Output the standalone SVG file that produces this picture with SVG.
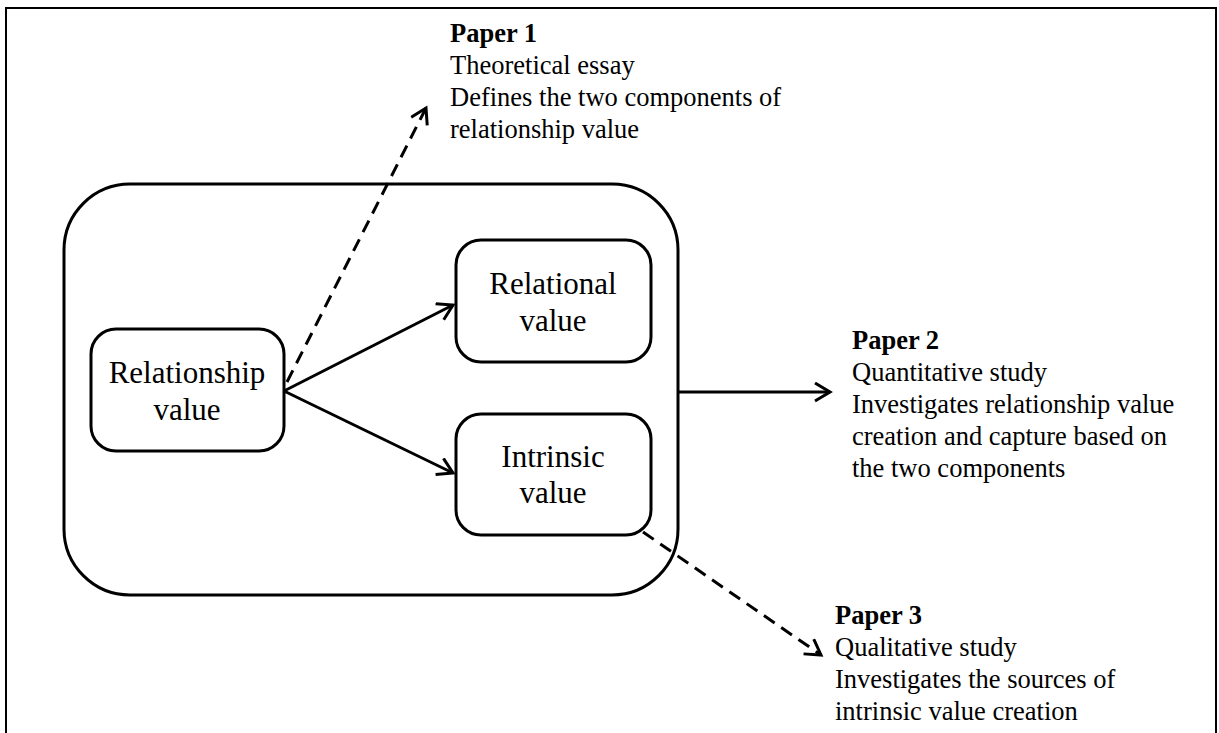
<svg xmlns="http://www.w3.org/2000/svg" width="1219" height="733" viewBox="0 0 1219 733">
<style>
.box{fill:#fff;stroke:#000;stroke-width:3}
.t{font-family:"Liberation Serif","Times New Roman",serif;font-size:26.5px;fill:#000}
.n{font-family:"Liberation Serif","Times New Roman",serif;font-size:31px;fill:#000;text-anchor:middle}
.b{font-weight:bold}
.c{fill:none;stroke:#000;stroke-width:3}
.d{stroke-dasharray:13 8}
</style>
<defs>
<marker id="ah" markerUnits="userSpaceOnUse" markerWidth="20" markerHeight="22" refX="16" refY="10" orient="auto">
<path d="M1,1 L16,10 L1,19" fill="none" stroke="#000" stroke-width="3"/>
</marker>
</defs>
<rect width="1219" height="733" fill="#fff"/>
<path d="M6,740 V8 H1216 V740" fill="none" stroke="#000" stroke-width="2"/>
<g id="container"><rect class="box" x="64" y="184" width="614" height="411" rx="66" ry="66"/></g>
<g id="relationship-value"><rect class="box" x="91" y="329" width="193" height="122" rx="25" ry="25"/>
<text class="n" x="187" y="383">Relationship</text><text class="n" x="187" y="420">value</text></g>
<g id="relational-value"><rect class="box" x="456" y="240" width="195" height="122" rx="25" ry="25"/>
<text class="n" x="553" y="294">Relational</text><text class="n" x="553" y="331">value</text></g>
<g id="intrinsic-value"><rect class="box" x="456" y="414" width="195" height="121" rx="25" ry="25"/>
<text class="n" x="553" y="467">Intrinsic</text><text class="n" x="553" y="503">value</text></g>
<g id="connectors">
<line class="c" x1="284" y1="391" x2="453" y2="305" marker-end="url(#ah)"/>
<line class="c" x1="284" y1="391" x2="453" y2="473" marker-end="url(#ah)"/>
<line class="c d" x1="287" y1="382" x2="426" y2="108" marker-end="url(#ah)"/>
<line class="c" x1="679" y1="392" x2="830" y2="392" marker-end="url(#ah)"/>
<line class="c d" x1="643" y1="532" x2="821" y2="655" marker-end="url(#ah)"/>
</g>
<g id="paper1"><text class="t b" x="450" y="42">Paper 1</text>
<text class="t" x="450" y="74">Theoretical essay</text>
<text class="t" x="450" y="106">Defines the two components of</text>
<text class="t" x="450" y="138">relationship value</text></g>
<g id="paper2"><text class="t b" x="852" y="349">Paper 2</text>
<text class="t" x="852" y="381">Quantitative study</text>
<text class="t" x="852" y="413">Investigates relationship value</text>
<text class="t" x="852" y="445">creation and capture based on</text>
<text class="t" x="852" y="477">the two components</text></g>
<g id="paper3"><text class="t b" x="835" y="624">Paper 3</text>
<text class="t" x="835" y="656">Qualitative study</text>
<text class="t" x="835" y="688">Investigates the sources of</text>
<text class="t" x="835" y="720">intrinsic value creation</text></g>
</svg>
